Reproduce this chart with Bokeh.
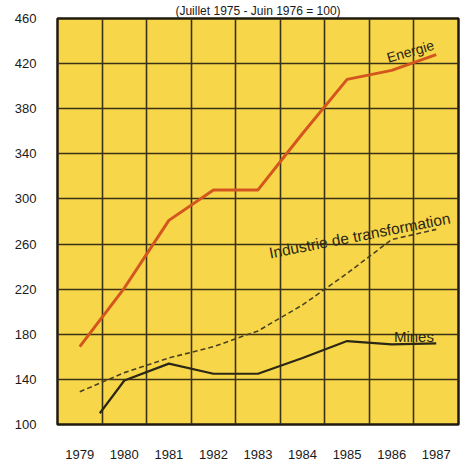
from bokeh.plotting import figure
from bokeh.models import FixedTicker, Label
from bokeh.embed import file_html
from bokeh.resources import INLINE

# ---- data ----
years = [1979, 1980, 1981, 1982, 1983, 1984, 1985, 1986, 1987]
energie = [169, 221, 281, 308, 308, 358, 406, 414, 428]
industrie = [129, 146, 159, 169, 183, 206, 234, 264, 273]
mines_years = [1979.45, 1980, 1981, 1982, 1983, 1984, 1985, 1986, 1987]
mines = [110, 139, 154, 145, 145, 159, 174, 171, 172]
y_ticks = [100, 140, 180, 220, 260, 300, 340, 380, 420, 460]
col_bounds = [1979.5, 1980.5, 1981.5, 1982.5, 1983.5, 1984.5, 1985.5, 1986.5]
title_text = "(Juillet 1975 - Juin 1976 = 100)"

FONT = "Liberation Sans"
DARK = "#2b2716"

p = figure(width=464, height=462, x_range=(1978.5, 1987.5), y_range=(100, 460),
           output_backend="svg", toolbar_location=None,
           min_border_left=57, min_border_right=6, min_border_top=18, min_border_bottom=38)
p.title.text = title_text
p.title.align = "center"
p.title.text_font = FONT
p.title.text_font_size = "12px"
p.title.text_font_style = "normal"
p.title.text_color = "#1a1a1a"
p.title.standoff = 2
p.background_fill_color = "#F8D649"
p.border_fill_color = "white"
p.outline_line_color = "#1e1a0e"
p.outline_line_width = 2.5

# axes
p.xaxis.ticker = FixedTicker(ticks=years)
p.yaxis.ticker = FixedTicker(ticks=y_ticks)
for ax in (p.xaxis[0], p.yaxis[0]):
    ax.axis_line_color = None
    ax.major_tick_line_color = None
    ax.minor_tick_line_color = None
    ax.major_tick_out = 0
    ax.major_tick_in = 0
    ax.major_label_text_font = FONT
    ax.major_label_text_font_size = "13px"
    ax.major_label_text_color = "#1a1a1a"
p.yaxis.major_label_standoff = 21
p.xaxis.major_label_standoff = 25

# grids
p.xgrid.ticker = FixedTicker(ticks=col_bounds)
p.ygrid.ticker = FixedTicker(ticks=y_ticks)
for g in (p.xgrid[0], p.ygrid[0]):
    g.grid_line_color = "#3a3218"
    g.grid_line_width = 1.6
    g.grid_line_alpha = 1.0

# series
p.line(years, energie, line_color="#D4561F", line_width=3)
p.line(years, industrie, line_color="#4a4220", line_width=1.6, line_dash="5 3")
p.line(mines_years, mines, line_color=DARK, line_width=2.2)

# labels
p.add_layout(Label(x=1985.9, y=425, text="Energie", angle=16, angle_units="deg",
                   text_font=FONT, text_font_size="14px", text_color=DARK,
                   text_baseline="alphabetic", text_align="left"))
p.add_layout(Label(x=1983.25, y=252, text="Industrie de transformation", angle=11,
                   angle_units="deg", text_font=FONT, text_font_size="15.5px",
                   text_color=DARK, text_baseline="alphabetic", text_align="left"))
p.add_layout(Label(x=1986.05, y=178, text="Mines", text_font=FONT, text_font_size="15px",
                   text_color=DARK, text_baseline="alphabetic", text_align="left"))

open("out.html", "w").write(file_html(p, INLINE))
